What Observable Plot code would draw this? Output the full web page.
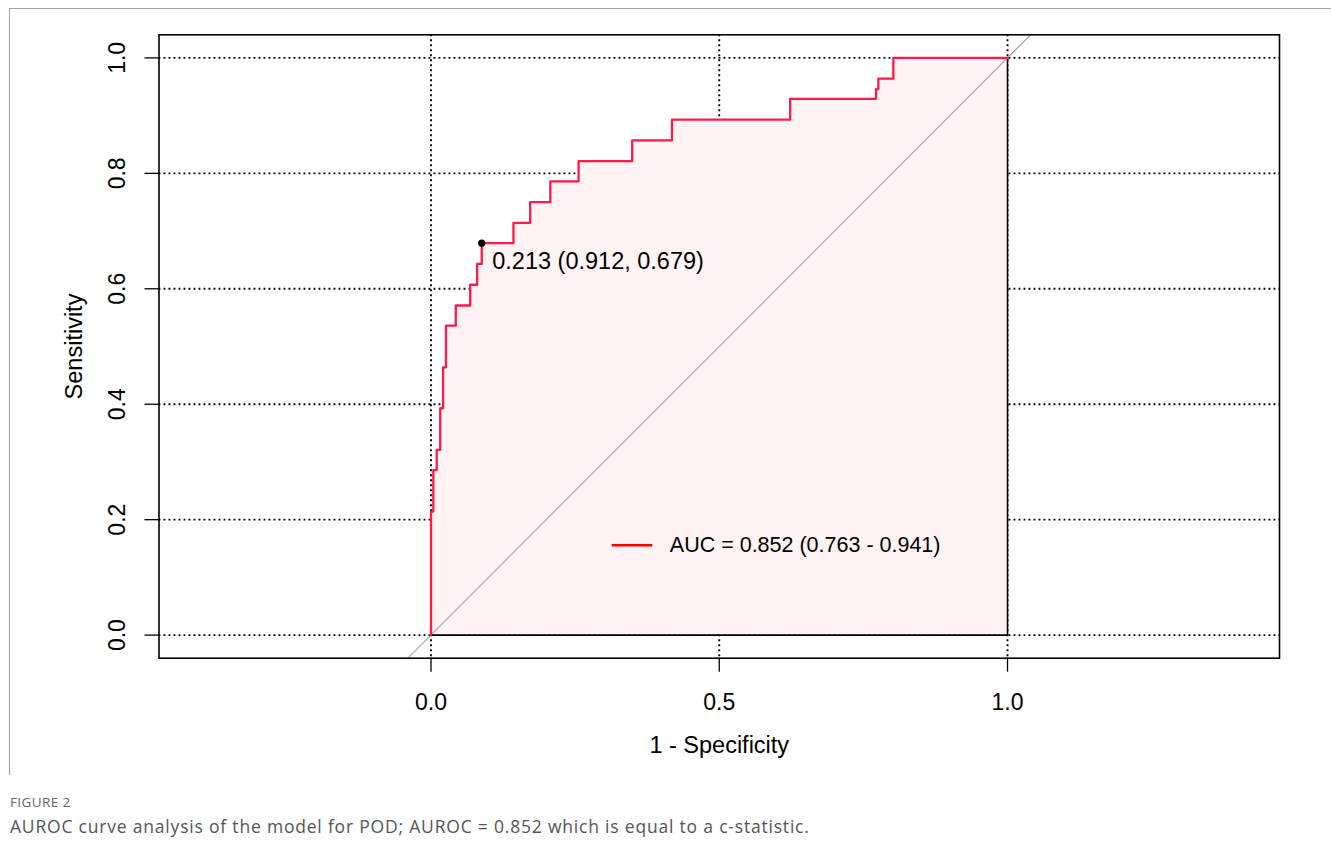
<!DOCTYPE html>
<html><head><meta charset="utf-8">
<script src="https://cdn.jsdelivr.net/npm/d3@7"></script>
<script src="https://cdn.jsdelivr.net/npm/@observablehq/plot@0.6"></script>
<style>
body{margin:0;background:#fff;width:1331px;height:843px;position:relative;overflow:hidden}
#frame{position:absolute;left:9px;top:8px;width:1322px;height:767px;border-top:1px solid #a0a0a0;border-left:1px solid #a0a0a0;box-sizing:border-box}
#chart{position:absolute;left:0;top:0}
.fig{position:absolute;left:10px;top:796px;font:13.5px/13.5px "Open Sans";color:#666;letter-spacing:0.4px;white-space:nowrap}
.cap{position:absolute;left:10px;top:818px;font:17.5px/17.5px "Open Sans";color:#555;letter-spacing:0.8px;white-space:nowrap}
</style></head><body>
<div id="frame"></div><div id="chart"></div>
<div class="fig" id="fig"></div><div class="cap" id="cap"></div>
<script>
// ROC curve vertices (1 - specificity, sensitivity)
const fpr = [0, 0, 0.004, 0.004, 0.0099, 0.0099, 0.016, 0.016, 0.021, 0.021, 0.026, 0.026,
  0.043, 0.043, 0.068, 0.068, 0.080, 0.080, 0.088, 0.088, 0.143, 0.143, 0.172, 0.172,
  0.207, 0.207, 0.256, 0.256, 0.349, 0.349, 0.418, 0.418, 0.623, 0.623, 0.772, 0.772,
  0.776, 0.776, 0.802, 0.802, 1.0];
const tpr = [0, 0.214, 0.214, 0.286, 0.286, 0.321, 0.321, 0.393, 0.393, 0.464, 0.464, 0.536,
  0.536, 0.571, 0.571, 0.607, 0.607, 0.643, 0.643, 0.679, 0.679, 0.714, 0.714, 0.750,
  0.750, 0.786, 0.786, 0.821, 0.821, 0.857, 0.857, 0.893, 0.893, 0.929, 0.929, 0.946,
  0.946, 0.964, 0.964, 1.0, 1.0];
const xTicks = [0, 0.5, 1];
const xTickLabels = ["0.0", "0.5", "1.0"];
const yTicks = [0, 0.2, 0.4, 0.6, 0.8, 1.0];
const yTickLabels = ["0.0", "0.2", "0.4", "0.6", "0.8", "1.0"];
const bestThreshold = ["0.213"];
const bestSpec = [0.912];
const bestSens = [0.679];
const aucLabel = ["AUC = 0.852 (0.763 - 0.941)"];
const xTitle = ["1 - Specificity"];
const yTitle = ["Sensitivity"];
const figureLabel = "FIGURE 2";
const captionText = "AUROC curve analysis of the model for POD; AUROC = 0.852 which is equal to a c-statistic.";

// layout
const yDomain = [-0.04, 1.04];
const xDomain = [-0.4718, 1.4718];
const legendY = 0.1557, legendX1 = 0.3143, legendX2 = 0.3847, legendTextX = 0.4142;
const FONT = "Liberation Sans, Arial, sans-serif";
const DOTS = {stroke: "black", strokeWidth: 1.9, strokeDasharray: "1.9,3.1"};

const roc = fpr.map((x, i) => ({x, y: tpr[i]}));
const first = roc[0], last = roc[roc.length - 1];
const border = [{x: last.x, y: last.y}, {x: last.x, y: 0}, {x: first.x, y: 0}];
const diag = [{x: yDomain[0], y: yDomain[0]}, {x: yDomain[1], y: yDomain[1]}];
const best = bestSpec.map((s, i) => ({x: 1 - s, y: bestSens[i],
  label: `${bestThreshold[i]} (${s.toFixed(3)}, ${bestSens[i].toFixed(3)})`}));

const chart = Plot.plot({
  width: 1331, height: 770,
  marginLeft: 158.5, marginRight: 52, marginTop: 34.3, marginBottom: 112.3,
  style: {fontFamily: FONT, background: "transparent", overflow: "visible", color: "black"},
  x: {domain: xDomain},
  y: {domain: yDomain},
  marks: [
    Plot.ruleX(xTicks, {x: d => d, ...DOTS}),
    Plot.ruleY(yTicks, {y: d => d, ...DOTS}),
    Plot.area(roc, {x1: "x", y1: () => 0, y2: "y", fill: "#fff3f4"}),
    Plot.line(diag, {x: "x", y: "y", stroke: "#a3a3a3", strokeWidth: 1.1}),
    Plot.line(border, {x: "x", y: "y", stroke: "black", strokeWidth: 1.6}),
    Plot.line(roc, {x: "x", y: "y", stroke: "#ff1a4a", strokeWidth: 2.3}),
    Plot.dot(best, {x: "x", y: "y", r: 3.6, fill: "black"}),
    Plot.text(best, {x: "x", y: "y", text: "label", dx: 10.5, dy: 18.7, textAnchor: "start", fontSize: 23.5, fill: "black"}),
    Plot.ruleY([legendY], {y: d => d, x1: () => legendX1, x2: () => legendX2, stroke: "#ff0000", strokeWidth: 2.3}),
    Plot.text(aucLabel, {x: () => legendTextX, y: () => legendY, text: d => d, textAnchor: "start", fontSize: 21.5, fill: "black"}),
    Plot.frame({stroke: "black", strokeWidth: 1.6}),
    Plot.axisX({ticks: xTicks, tickSize: 14, tickFormat: () => "", label: null, strokeWidth: 1.3}),
    Plot.axisY({ticks: yTicks, tickSize: 14, tickFormat: () => "", label: null, strokeWidth: 1.3}),
    Plot.text(xTicks, {x: d => d, frameAnchor: "bottom", lineAnchor: "middle", textAnchor: "middle", dy: 44.5, text: (d, i) => xTickLabels[i], fontSize: 23, fill: "black"}),
    Plot.text(yTicks, {y: d => d, frameAnchor: "left", lineAnchor: "middle", textAnchor: "middle", dx: -41.5, rotate: -90, text: (d, i) => yTickLabels[i], fontSize: 23, fill: "black"}),
    Plot.text(xTitle, {frameAnchor: "bottom", lineAnchor: "middle", textAnchor: "middle", dy: 87.6, text: d => d, fontSize: 23.5, fill: "black"}),
    Plot.text(yTitle, {frameAnchor: "left", lineAnchor: "middle", textAnchor: "middle", dx: -84.5, rotate: -90, text: d => d, fontSize: 23.5, fill: "black"})
  ]
});
document.getElementById("chart").appendChild(chart);
document.getElementById("fig").textContent = figureLabel;
document.getElementById("cap").textContent = captionText;
</script>
</body></html>
